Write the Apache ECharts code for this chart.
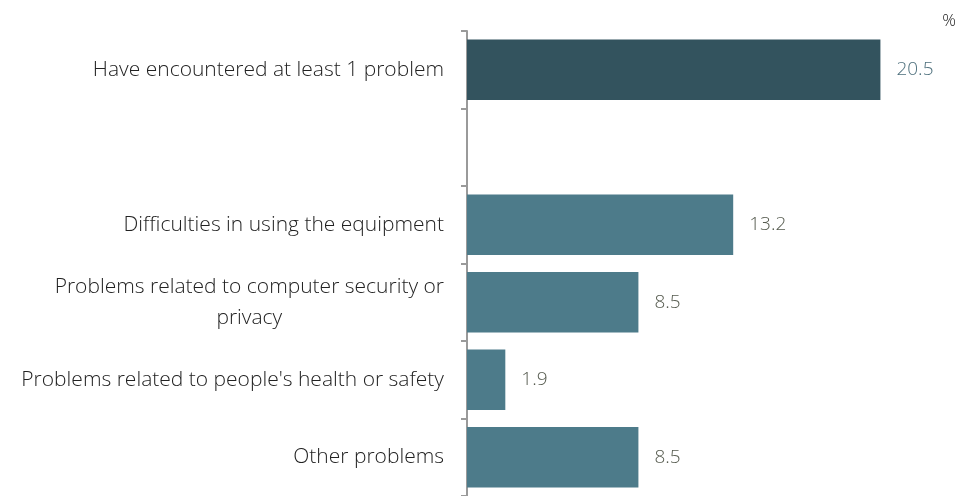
<!DOCTYPE html>
<html><head><meta charset="utf-8">
<script src="https://cdn.jsdelivr.net/npm/echarts@6/dist/echarts.min.js"></script>
<style>html,body{margin:0;padding:0;background:#fff}#c{width:958px;height:496px}</style>
</head><body><div id="c"></div>
<script>
const categories = [
  "Have encountered at least 1 problem",
  "",
  "Difficulties in using the equipment",
  "Problems related to computer security or\nprivacy",
  "Problems related to people's health or safety",
  "Other problems"
];
const values = [20.5, null, 13.2, 8.5, 1.9, 8.5];
const unitLabel = "%";

const FONT = "'Open Sans', sans-serif";
const chart = echarts.init(document.getElementById('c'));
chart.setOption({
  animation: false,
  grid: { left: 467, top: 31, right: 7, bottom: -3, containLabel: false },
  xAxis: { type: 'value', min: 0, max: 24, show: false },
  yAxis: {
    type: 'category', data: categories, inverse: true,
    axisLine: { show: true, lineStyle: { color: '#9a9a9a', width: 2 } },
    axisTick: { show: true, length: 6, lineStyle: { color: '#9a9a9a', width: 2 } },
    axisLabel: {
      margin: 23, color: '#222', fontSize: 21, fontFamily: FONT, fontWeight: 300,
      formatter: v => v.split('\n').map(s => '{c|' + s + '}').join('\n'),
      rich: { c: { align: 'center', fontSize: 21, fontFamily: FONT, fontWeight: 300, color: '#222', lineHeight: 31 } }
    }
  },
  graphic: [{ type: 'text', right: 2, top: 13, style: { text: unitLabel, fontSize: 17, fontFamily: FONT, fontWeight: 300, fill: '#222' } }],
  series: [{
    type: 'bar', data: values.map((v, i) => ({
      value: v,
      itemStyle: { color: i === 0 ? '#33535e' : '#4d7b8a' },
      label: { color: i === 0 ? '#4d6f7c' : '#555a4e' }
    })),
    barCategoryGap: '22%',
    label: { show: true, position: 'right', distance: 16, fontSize: 19, fontFamily: FONT, fontWeight: 300,
      formatter: p => p.value.toFixed(1) }
  }]
});
</script></body></html>
